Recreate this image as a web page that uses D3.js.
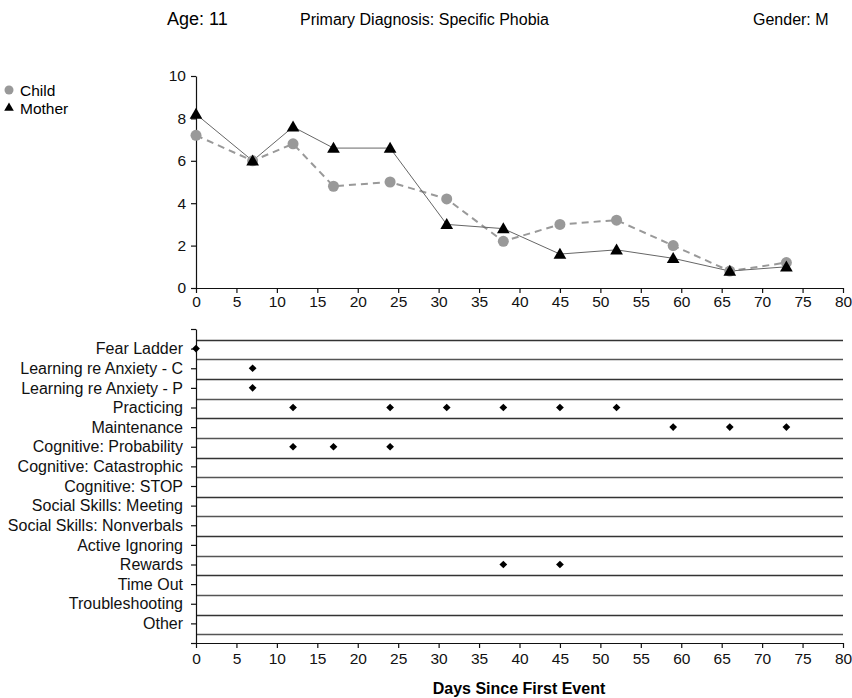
<!DOCTYPE html>
<html><head><meta charset="utf-8">
<script src="https://cdn.jsdelivr.net/npm/d3@7"></script>
<style>
body{margin:0;background:#fff;}
svg{font-family:"Liberation Sans",Arial,Helvetica,sans-serif;}
</style></head>
<body><svg id="c" width="852" height="698"></svg>
<script>
const days = [0,7,12,17,24,31,38,45,52,59,66,73];
const childScores = [7.2,6.0,6.8,4.8,5.0,4.2,2.2,3.0,3.2,2.0,0.8,1.2];
const motherScores = [8.2,6.0,7.6,6.6,6.6,3.0,2.8,1.6,1.8,1.4,0.8,1.0];
const categories = ["Fear Ladder","Learning re Anxiety - C","Learning re Anxiety - P","Practicing","Maintenance","Cognitive: Probability","Cognitive: Catastrophic","Cognitive: STOP","Social Skills: Meeting","Social Skills: Nonverbals","Active Ignoring","Rewards","Time Out","Troubleshooting","Other"];
const eventCategory = ["Fear Ladder","Learning re Anxiety - C","Learning re Anxiety - P","Practicing","Practicing","Practicing","Practicing","Practicing","Practicing","Maintenance","Maintenance","Maintenance","Cognitive: Probability","Cognitive: Probability","Cognitive: Probability","Rewards","Rewards"];
const eventDay = [0,7,7,12,24,31,38,45,52,59,66,73,12,17,24,38,45];
const xTicks = d3.range(0,81,5);
const yTicks = [0,2,4,6,8,10];

const svg = d3.select("#c");
const FONT = "Liberation Sans, Arial, sans-serif";

// Header
svg.append("text").attr("x",167).attr("y",25).attr("font-size",18).text("Age: 11");
svg.append("text").attr("x",300).attr("y",25).attr("font-size",16).text("Primary Diagnosis: Specific Phobia");
svg.append("text").attr("x",753).attr("y",25).attr("font-size",16).text("Gender: M");

// Top chart
const x = d3.scaleLinear().domain([0,80]).range([196,843]);
const y = d3.scaleLinear().domain([0,10]).range([288,76]);

const gx = svg.append("g").attr("transform","translate(0,288)")
  .call(d3.axisBottom(x).tickValues(xTicks).tickSize(5).tickSizeOuter(0).tickPadding(3));
const gy = svg.append("g").attr("transform","translate(196,0)")
  .call(d3.axisLeft(y).tickValues(yTicks).tickSize(5).tickSizeOuter(0).tickPadding(5));
[gx,gy].forEach(g=>{
  g.selectAll("text").attr("font-size",15.5).attr("fill","#111").style("font-family",FONT);
  g.selectAll("line,path").attr("stroke","#111").attr("stroke-width",1.2);
});

const childPts = days.map((d,i)=>({d,v:childScores[i]}));
const motherPts = days.map((d,i)=>({d,v:motherScores[i]}));
const line = d3.line().x(p=>x(p.d)).y(p=>y(p.v));

svg.append("path").datum(childPts).attr("d",line).attr("fill","none")
  .attr("stroke","#999").attr("stroke-width",2).attr("stroke-dasharray","7,5");
svg.append("path").datum(motherPts).attr("d",line).attr("fill","none")
  .attr("stroke","#666").attr("stroke-width",1);

svg.append("g").selectAll("circle").data(childPts).join("circle")
  .attr("cx",p=>x(p.d)).attr("cy",p=>y(p.v)).attr("r",5.5).attr("fill","#999");
const tri = d3.symbol().type(d3.symbolTriangle).size(70);
svg.append("g").selectAll("path").data(motherPts).join("path")
  .attr("d",tri).attr("transform",p=>`translate(${x(p.d)},${y(p.v)+1})`).attr("fill","#000");

// Legend
svg.append("circle").attr("cx",9).attr("cy",90).attr("r",4.5).attr("fill","#999");
svg.append("text").attr("x",20).attr("y",96).attr("font-size",15.5).text("Child");
svg.append("path").attr("d",d3.symbol().type(d3.symbolTriangle).size(40)).attr("transform","translate(9,108)").attr("fill","#000");
svg.append("text").attr("x",20).attr("y",114).attr("font-size",15.5).text("Mother");

// Bottom chart
const y2 = d3.scaleLinear().domain([0,16]).range([643,329]);
const catVal = c => 15 - categories.indexOf(c);

svg.append("g").selectAll("line").data(d3.range(0,16)).join("line")
  .attr("x1",196).attr("x2",843)
  .attr("y1",k=>Math.round(y2(k+0.45))+0.5).attr("y2",k=>Math.round(y2(k+0.45))+0.5)
  .attr("stroke",(k)=>k%2? "#333":"#555").attr("stroke-width",1.3);

const gx2 = svg.append("g").attr("transform","translate(0,643)")
  .call(d3.axisBottom(x).tickValues(xTicks).tickSize(5).tickSizeOuter(0).tickPadding(5));
const gy2 = svg.append("g").attr("transform","translate(196,0)")
  .call(d3.axisLeft(y2).tickValues(d3.range(0,17)).tickSize(5).tickSizeOuter(0).tickPadding(8)
    .tickFormat(v=> (v>=1 && v<=15) ? categories[15-v] : ""));
[gx2,gy2].forEach(g=>{
  g.selectAll("text").attr("font-size",15.5).attr("fill","#111").style("font-family",FONT);
  g.selectAll("line,path").attr("stroke","#111").attr("stroke-width",1.2);
});
gy2.selectAll("text").attr("font-size",16);

const diamond = d3.symbol().type(d3.symbolSquare).size(30);
svg.append("g").selectAll("path").data(eventDay.map((d,i)=>({d,c:eventCategory[i]}))).join("path")
  .attr("d",diamond).attr("transform",p=>`translate(${x(p.d)},${y2(catVal(p.c))}) rotate(45)`).attr("fill","#000");

svg.append("text").attr("x",519).attr("y",694).attr("text-anchor","middle")
  .attr("font-size",16).attr("font-weight","bold").text("Days Since First Event");
</script></body></html>
